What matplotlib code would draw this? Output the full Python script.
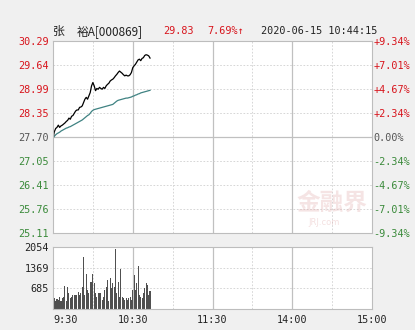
import matplotlib.pyplot as plt
import numpy as np

# minute data 9:30 -> 10:43
prix = [27.66, 27.84, 27.93, 27.96, 28.02, 27.96, 28.00, 28.02, 28.05, 28.08,
        28.12, 28.15, 28.21, 28.18, 28.26, 28.28, 28.34, 28.40, 28.43, 28.43,
        28.50, 28.51, 28.54, 28.63, 28.72, 28.77, 28.72, 28.81, 28.90, 29.08,
        29.17, 29.08, 28.95, 29.01, 28.99, 29.04, 29.01, 28.99, 29.04, 29.01,
        29.08, 29.12, 29.15, 29.21, 29.24, 29.26, 29.30, 29.35, 29.39, 29.44,
        29.48, 29.45, 29.42, 29.38, 29.35, 29.37, 29.35, 29.35, 29.38, 29.44,
        29.57, 29.62, 29.66, 29.72, 29.78, 29.80, 29.76, 29.82, 29.84, 29.90,
        29.92, 29.91, 29.89, 29.83]
moyenne = [27.66, 27.72, 27.76, 27.79, 27.81, 27.83, 27.86, 27.88, 27.90, 27.92,
           27.94, 27.95, 27.97, 27.98, 28.00, 28.02, 28.04, 28.06, 28.08, 28.10,
           28.12, 28.14, 28.16, 28.19, 28.22, 28.25, 28.28, 28.30, 28.34, 28.39,
           28.42, 28.44, 28.45, 28.46, 28.47, 28.48, 28.49, 28.50, 28.51, 28.52,
           28.53, 28.54, 28.55, 28.56, 28.57, 28.58, 28.61, 28.64, 28.67, 28.69,
           28.70, 28.71, 28.72, 28.73, 28.74, 28.75, 28.75, 28.76, 28.77, 28.78,
           28.80, 28.81, 28.83, 28.84, 28.86, 28.87, 28.89, 28.90, 28.91, 28.92,
           28.93, 28.94, 28.95, 28.96]
volume = [902, 359, 250, 326, 283, 413, 250, 359, 413, 761,
          250, 739, 522, 359, 413, 467, 467, 467, 467, 576,
          467, 522, 739, 1739, 467, 1174, 630, 522, 902, 902,
          1174, 848, 522, 413, 522, 522, 522, 304, 413, 630,
          739, 957, 250, 1011, 685, 848, 739, 1989, 522, 902,
          413, 1337, 413, 359, 304, 359, 304, 359, 413, 304,
          630, 1120, 630, 848, 1413, 467, 413, 359, 522, 685,
          848, 794, 467, 610]

niveaux = [30.29, 29.64, 28.99, 28.35, 27.70, 27.05, 26.41, 25.76, 25.11]
pourcents = ["+9.34%", "+7.01%", "+4.67%", "+2.34%", "0.00%",
             "-2.34%", "-4.67%", "-7.01%", "-9.34%"]
vol_ticks = [685, 1369, 2054]
heures = ["9:30", "10:30", "11:30", "14:00", "15:00"]
heures_pos = [0, 60, 120, 180, 240]

rouge = "#d8141c"
vert = "#3a8a3a"
gris = "#555555"
bord = "#bdbdbd"
police = "DejaVu Sans Mono"

fig = plt.figure(figsize=(4.15, 3.3), dpi=100, facecolor="#f0f0f0")
ax = fig.add_axes([0.1277, 0.2939, 0.7687, 0.5818])
axv = fig.add_axes([0.1277, 0.0636, 0.7687, 0.1879])

minutes = np.arange(len(prix))

# grille
for a in (ax, axv):
    a.set_facecolor("white")
    a.set_xlim(0, 240)
    for s in a.spines.values():
        s.set_color(bord)
        s.set_linewidth(0.8)
    for m in (30, 90, 150, 210):
        a.axvline(m, color="#d0d0d0", lw=0.6, ls=(0, (2, 2)), zorder=0)
    for m in (60, 120, 180):
        a.axvline(m, color="#c0c0c0", lw=0.9, zorder=0)

for n in niveaux[1:-1]:
    if n == 27.70:
        ax.axhline(n, color="#c0c0c0", lw=0.9, zorder=0)
    else:
        ax.axhline(n, color="#d0d0d0", lw=0.6, ls=(0, (2, 2)), zorder=0)

ax.plot(minutes, moyenne, color="#3f8282", lw=0.9)
ax.plot(minutes, prix, color="black", lw=0.9)
ax.set_ylim(25.11, 30.29)
ax.set_xticks([])
ax.set_yticks(niveaux)
ax.set_yticklabels([f"{n:.2f}" for n in niveaux], fontfamily=police, fontsize=7.3)
ax.tick_params(axis="y", length=0, pad=3)
for lab, n in zip(ax.get_yticklabels(), niveaux):
    lab.set_color(rouge if n > 27.70 else (gris if n == 27.70 else vert))

ax2 = ax.twinx()
ax2.set_ylim(25.11, 30.29)
ax2.set_yticks(niveaux)
ax2.set_yticklabels(pourcents, fontfamily=police, fontsize=7.3)
ax2.tick_params(axis="y", length=0, pad=1)
for s in ax2.spines.values():
    s.set_visible(False)
for lab, n in zip(ax2.get_yticklabels(), niveaux):
    lab.set_color(rouge if n > 27.70 else (gris if n == 27.70 else vert))

# filigrane
ax.text(0.875, 0.16, "金融界", transform=ax.transAxes, ha="center", va="center",
        fontsize=17, fontweight="bold", color="#e0a8a8", alpha=0.3,
        family=["Noto Sans CJK SC", "DejaVu Sans"], zorder=0)
ax.text(0.85, 0.055, "JRJ.com", transform=ax.transAxes, ha="center", va="center",
        fontsize=6, color="#e0a8a8", alpha=0.35, zorder=0)

# volume
for n in vol_ticks[:-1]:
    axv.axhline(n, color="#d0d0d0", lw=0.6, ls=(0, (2, 2)), zorder=0)
axv.bar(np.arange(len(volume)), volume, width=0.8, color="#505050", zorder=2)
axv.set_ylim(0, 2054)
axv.set_yticks(vol_ticks)
axv.set_yticklabels([str(v) for v in vol_ticks], fontfamily=police, fontsize=7.3,
                    color="#222222")
axv.tick_params(axis="y", length=0, pad=3)
axv.set_xticks(heures_pos)
axv.set_xticklabels(heures, fontfamily=police, fontsize=7.3, color="#222222")
axv.tick_params(axis="x", length=0, pad=4)
axv.get_xticklabels()[0].set_ha("left")

# en-tete
cjk = ["Noto Sans CJK SC", "DejaVu Sans"]
fig.text(0.128, 0.905, "张", family=cjk, fontsize=8.5, color="#222222", va="center")
fig.text(0.185, 0.905, "裕A[000869]", family=cjk, fontsize=8.5, color="#222222",
         va="center")
fig.text(0.393, 0.905, "29.83", family=police, fontsize=7.3, color=rouge, va="center")
fig.text(0.499, 0.905, "7.69%↑", family=police, fontsize=7.3, color=rouge, va="center")
fig.text(0.629, 0.905, "2020-06-15 10:44:15", family=police, fontsize=7.3,
         color="#222222", va="center")

fig.savefig("out.png", dpi=100, facecolor=fig.get_facecolor())
